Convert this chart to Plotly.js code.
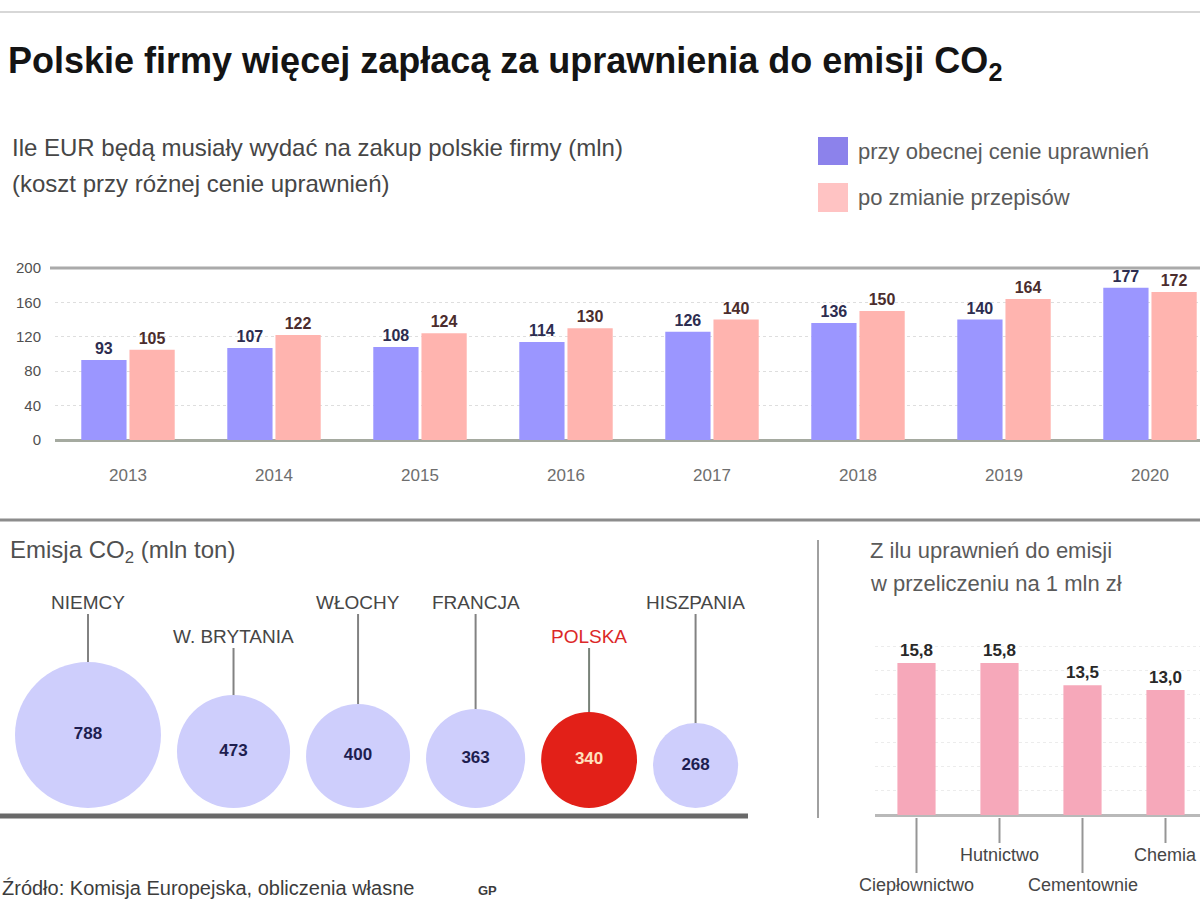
<!DOCTYPE html>
<html><head><meta charset="utf-8">
<script src="https://cdn.plot.ly/plotly-3.0.1.min.js"></script>
<style>html,body{margin:0;padding:0;background:#fff}#chart{width:1200px;height:923px}</style>
</head><body><div id="chart"></div>
<script>
// ---- data ----
const years = ['2013','2014','2015','2016','2017','2018','2019','2020'];
const costCurrent = [93,107,108,114,126,136,140,177];
const costNew = [105,122,124,130,140,150,164,172];
const seriesNames = ['przy obecnej cenie uprawnień','po zmianie przepisów'];
const yTicks = [0,40,80,120,160,200];

const countries = ['NIEMCY','W. BRYTANIA','WŁOCHY','FRANCJA','POLSKA','HISZPANIA'];
const emissions = [788,473,400,363,340,268];
const highlight = 'POLSKA';

const sectors = ['Ciepłownictwo','Hutnictwo','Cementownie','Chemia'];
const sectorValues = [15.8,15.8,13.5,13.0];

// ---- layout helpers (pixel -> paper) ----
const W = 1200, H = 923;
const fx = x => x / W;
const fy = y => 1 - y / H;
const FONT = 'Liberation Sans, Arial, sans-serif';

// top chart geometry
const topLeft = 55, catW = 146, topBase = 440, topTop = 250, pxPerUnit = 0.86;
// bubble geometry
const bubW = 790, bubBase = 816, bubTop = 540, bubK = 2.6, bubGap = 16, bubStart = 15, bubLift = 8;
const radii = emissions.map(v => bubK * Math.sqrt(v));
const bubX = [];
radii.forEach((r, i) => { bubX.push(i === 0 ? bubStart + r : bubX[i-1] + radii[i-1] + bubGap + r); });
const bubY = radii.map(r => r + bubLift);
const labelRow = [0,1,0,0,1,0];
const rowPy = [602, 636];
// right chart geometry
const rLeft = 875, rCat = 83, rBase = 815, rTop = 630, rPx = 9.62;

const traces = [
  {type:'bar', name:seriesNames[0], x:years, y:costCurrent, xaxis:'x', yaxis:'y',
   width:0.31, offset:-0.32, marker:{color:'rgb(155,150,255)'},
   text:costCurrent.map(v=>'<b>'+v+'</b>'), textposition:'outside', cliponaxis:false,
   textfont:{family:FONT, size:16, color:'rgb(45,45,80)'}, hoverinfo:'x+y'},
  {type:'bar', name:seriesNames[1], x:years, y:costNew, xaxis:'x', yaxis:'y',
   width:0.31, offset:0.01, marker:{color:'rgb(255,180,175)'},
   text:costNew.map(v=>'<b>'+v+'</b>'), textposition:'outside', cliponaxis:false,
   textfont:{family:FONT, size:16, color:'rgb(75,45,45)'}, hoverinfo:'x+y'},
  {type:'scatter', mode:'markers+text', x:bubX, y:bubY, xaxis:'x2', yaxis:'y2',
   text:emissions.map(v=>'<b>'+v+'</b>'), textposition:'middle center', cliponaxis:false,
   textfont:{family:FONT, size:17, color:countries.map(c=>c===highlight?'rgb(255,225,190)':'rgb(30,30,80)')},
   marker:{size:radii.map(r=>2*r), sizemode:'diameter', opacity:1,
     color:countries.map(c=>c===highlight?'rgb(226,32,24)':'rgb(206,206,252)'), line:{width:0}},
   hovertext:countries, hoverinfo:'text'},
  {type:'bar', x:sectors, y:sectorValues, xaxis:'x3', yaxis:'y3', width:0.46,
   marker:{color:'rgb(246,168,186)'}, texttemplate:'<b>%{y:.1f}</b>', textposition:'outside', cliponaxis:false,
   textfont:{family:FONT, size:17, color:'rgb(40,40,40)'}}
];

const shapes = [
  {type:'line', xref:'paper', yref:'paper', x0:0, x1:1, y0:fy(12), y1:fy(12), line:{color:'rgb(215,215,215)', width:2}},
  {type:'line', xref:'paper', yref:'y', x0:fx(50), x1:1, y0:200, y1:200, line:{color:'rgb(170,170,170)', width:3}},
  {type:'line', xref:'paper', yref:'paper', x0:0, x1:1, y0:fy(520), y1:fy(520), line:{color:'rgb(140,140,140)', width:3}},
  {type:'line', xref:'paper', yref:'paper', x0:fx(818), x1:fx(818), y0:fy(540), y1:fy(818), line:{color:'rgb(160,160,160)', width:2}},
  {type:'line', xref:'paper', yref:'paper', x0:0, x1:fx(748), y0:fy(bubBase), y1:fy(bubBase), line:{color:'rgb(105,105,105)', width:5}},
  {type:'rect', xref:'paper', yref:'paper', x0:fx(818), x1:fx(848), y0:fy(137), y1:fy(165), line:{width:0}, fillcolor:'rgb(140,130,235)'},
  {type:'rect', xref:'paper', yref:'paper', x0:fx(818), x1:fx(848), y0:fy(183), y1:fy(212), line:{width:0}, fillcolor:'rgb(255,195,195)'}
];
countries.forEach((c,i)=>{
  shapes.push({type:'line', layer:'below', xref:'x2', yref:'y2', x0:bubX[i], x1:bubX[i],
    y0:bubBase-(rowPy[labelRow[i]]+12), y1:bubY[i],
    line:{color:c===highlight?'rgb(120,130,120)':'rgb(130,130,130)', width:2}});
});
const sRow = [885, 855, 885, 855];
sectors.forEach((s,i)=>{
  shapes.push({type:'line', xref:'x3', yref:'paper', x0:i, x1:i, y0:fy(818), y1:fy(sRow[i]-12),
    line:{color:'rgb(150,150,150)', width:2}});
});

const ann = [];
function txt(x, y, text, size, color, opts) {
  ann.push(Object.assign({xref:'paper', yref:'paper', x:fx(x), y:fy(y), text:text, showarrow:false,
    xanchor:'left', yanchor:'middle', font:{family:FONT, size:size, color:color}}, opts||{}));
}
txt(6, 63, '<b>Polskie firmy więcej zapłacą za uprawnienia do emisji CO<sub>2</sub></b>', 36, 'rgb(20,20,20)');
txt(10, 148, 'Ile EUR będą musiały wydać na zakup polskie firmy (mln)', 24, 'rgb(70,70,70)');
txt(10, 184, '(koszt przy różnej cenie uprawnień)', 24, 'rgb(70,70,70)');
txt(856, 152, seriesNames[0], 22, 'rgb(90,90,90)');
txt(856, 198, seriesNames[1], 22, 'rgb(90,90,90)');
txt(8, 551, 'Emisja CO<sub>2</sub> (mln ton)', 24, 'rgb(80,80,80)');
txt(868, 550, 'Z ilu uprawnień do emisji', 22, 'rgb(90,90,90)');
txt(868, 583, 'w przeliczeniu na 1 mln zł', 22, 'rgb(90,90,90)');
txt(0, 888, 'Źródło: Komisja Europejska, obliczenia własne', 20, 'rgb(60,60,60)');
txt(476, 890, '<b>GP</b>', 13, 'rgb(60,60,60)');
countries.forEach((c,i)=>{
  ann.push({xref:'x2', yref:'paper', x:bubX[i], y:fy(rowPy[labelRow[i]]), text:c, showarrow:false,
    xanchor:'center', yanchor:'middle', font:{family:FONT, size:19, color:c===highlight?'rgb(220,40,40)':'rgb(70,70,70)'}});
});
sectors.forEach((s,i)=>{
  ann.push({xref:'x3', yref:'paper', x:i, y:fy(sRow[i]), text:s, showarrow:false,
    xanchor:'center', yanchor:'middle', font:{family:FONT, size:18, color:'rgb(70,70,70)'}});
});

const layout = {
  width:W, height:H, margin:{l:0,r:0,t:0,b:0}, paper_bgcolor:'#fff', plot_bgcolor:'rgba(0,0,0,0)',
  showlegend:false, separators:', ', barmode:'overlay',
  font:{family:FONT},
  xaxis:{domain:[fx(topLeft),1], type:'category', range:[-0.5,(W-topLeft)/catW-0.5], showgrid:false,
    ticks:'outside', ticklen:20, tickcolor:'rgba(0,0,0,0)', tickfont:{size:17, color:'rgb(110,110,110)'},
    showline:false, zeroline:false, fixedrange:true},
  yaxis:{domain:[fy(topBase), fy(topTop)], range:[0,(topBase-topTop)/pxPerUnit], tickvals:yTicks,
    showgrid:true, gridcolor:'rgb(222,222,222)', griddash:'dot', gridwidth:1,
    zeroline:true, zerolinecolor:'rgb(165,170,160)', zerolinewidth:3,
    ticks:'outside', ticklen:10, tickcolor:'rgba(0,0,0,0)', tickfont:{size:15, color:'rgb(80,80,80)'}, fixedrange:true},
  xaxis2:{domain:[0,fx(bubW)], range:[0,bubW], visible:false, fixedrange:true},
  yaxis2:{domain:[fy(bubBase), fy(bubTop)], range:[0,bubBase-bubTop], visible:false, fixedrange:true},
  xaxis3:{domain:[fx(rLeft),1], type:'category', range:[-0.5,(W-rLeft)/rCat-0.5], showticklabels:false,
    showgrid:false, zeroline:false, fixedrange:true},
  yaxis3:{domain:[fy(rBase), fy(rTop)], range:[0,(rBase-rTop)/rPx], dtick:2.5, showticklabels:false,
    showgrid:true, gridcolor:'rgb(236,236,236)', griddash:'dot',
    zeroline:true, zerolinecolor:'rgb(185,185,185)', zerolinewidth:3, fixedrange:true},
  shapes:shapes, annotations:ann
};
Plotly.newPlot('chart', traces, layout, {staticPlot:true, displayModeBar:false});
</script></body></html>
